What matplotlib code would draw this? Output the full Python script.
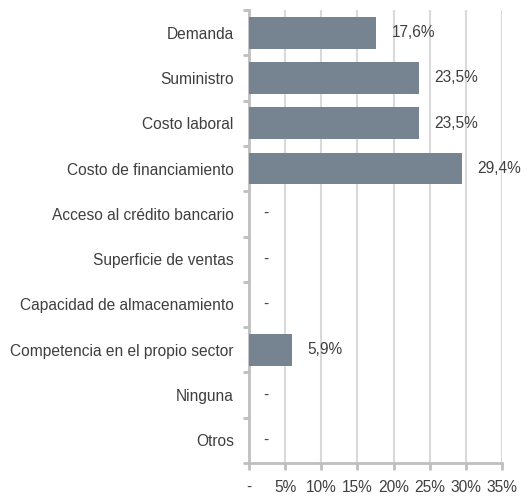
import matplotlib.pyplot as plt
from matplotlib.ticker import FixedLocator, FuncFormatter

categories = ["Demanda", "Suministro", "Costo laboral", "Costo de financiamiento",
              "Acceso al crédito bancario", "Superficie de ventas",
              "Capacidad de almacenamiento", "Competencia en el propio sector",
              "Ninguna", "Otros"]
values = [17.6, 23.5, 23.5, 29.4, 0, 0, 0, 5.9, 0, 0]
x_ticks = [0, 5, 10, 15, 20, 25, 30, 35]

plt.rcParams['font.family'] = ['Liberation Sans', 'DejaVu Sans']
text_color = '#3f3f3f'
axis_color = '#bfbfbf'
bar_color = '#758490'
fs = 11.2

fig = plt.figure(figsize=(5.28, 4.96), dpi=100)
ax = fig.add_axes([249 / 528, 1 - 463 / 496, 253 / 528, 453 / 496])

pos = list(range(len(categories)))
ax.barh(pos, values, height=0.7, color=bar_color, zorder=3)
ax.set_ylim(len(categories) - 0.5, -0.5)
ax.set_xlim(0, 35)

# value labels
for y, v in zip(pos, values):
    if v > 0:
        ax.annotate(f"{v:.1f}%".replace('.', ','), (v, y), xytext=(11, 0),
                    textcoords='offset points', va='center', ha='left',
                    fontsize=fs, color=text_color)
    else:
        ax.annotate("-", (0, y), xytext=(10, 0), textcoords='offset points',
                    va='center', ha='left', fontsize=fs, color=text_color)

# y axis: labels centred on bars, tick marks between categories
ax.set_yticks(pos)
ax.set_yticklabels(categories, fontsize=fs, color=text_color)
ax.tick_params(axis='y', which='major', length=0, pad=11)
ax.yaxis.set_minor_locator(FixedLocator([p - 0.5 for p in pos] + [len(pos) - 0.5]))
ax.tick_params(axis='y', which='minor', length=4, width=2, color=axis_color,
               direction='out')

# x axis
ax.xaxis.set_major_locator(FixedLocator(x_ticks))
ax.xaxis.set_major_formatter(FuncFormatter(lambda x, _: "-" if x == 0 else f"{x:.0f}%"))
ax.tick_params(axis='x', length=5, width=2, color=axis_color, labelsize=fs,
               labelcolor=text_color, pad=7)
ax.grid(axis='x', color='#d9d9d9', linewidth=1.5, zorder=0)

for side in ['top', 'right']:
    ax.spines[side].set_visible(False)
for side in ['left', 'bottom']:
    ax.spines[side].set_color(axis_color)
    ax.spines[side].set_linewidth(2)

fig.savefig('out.png', dpi=100)
